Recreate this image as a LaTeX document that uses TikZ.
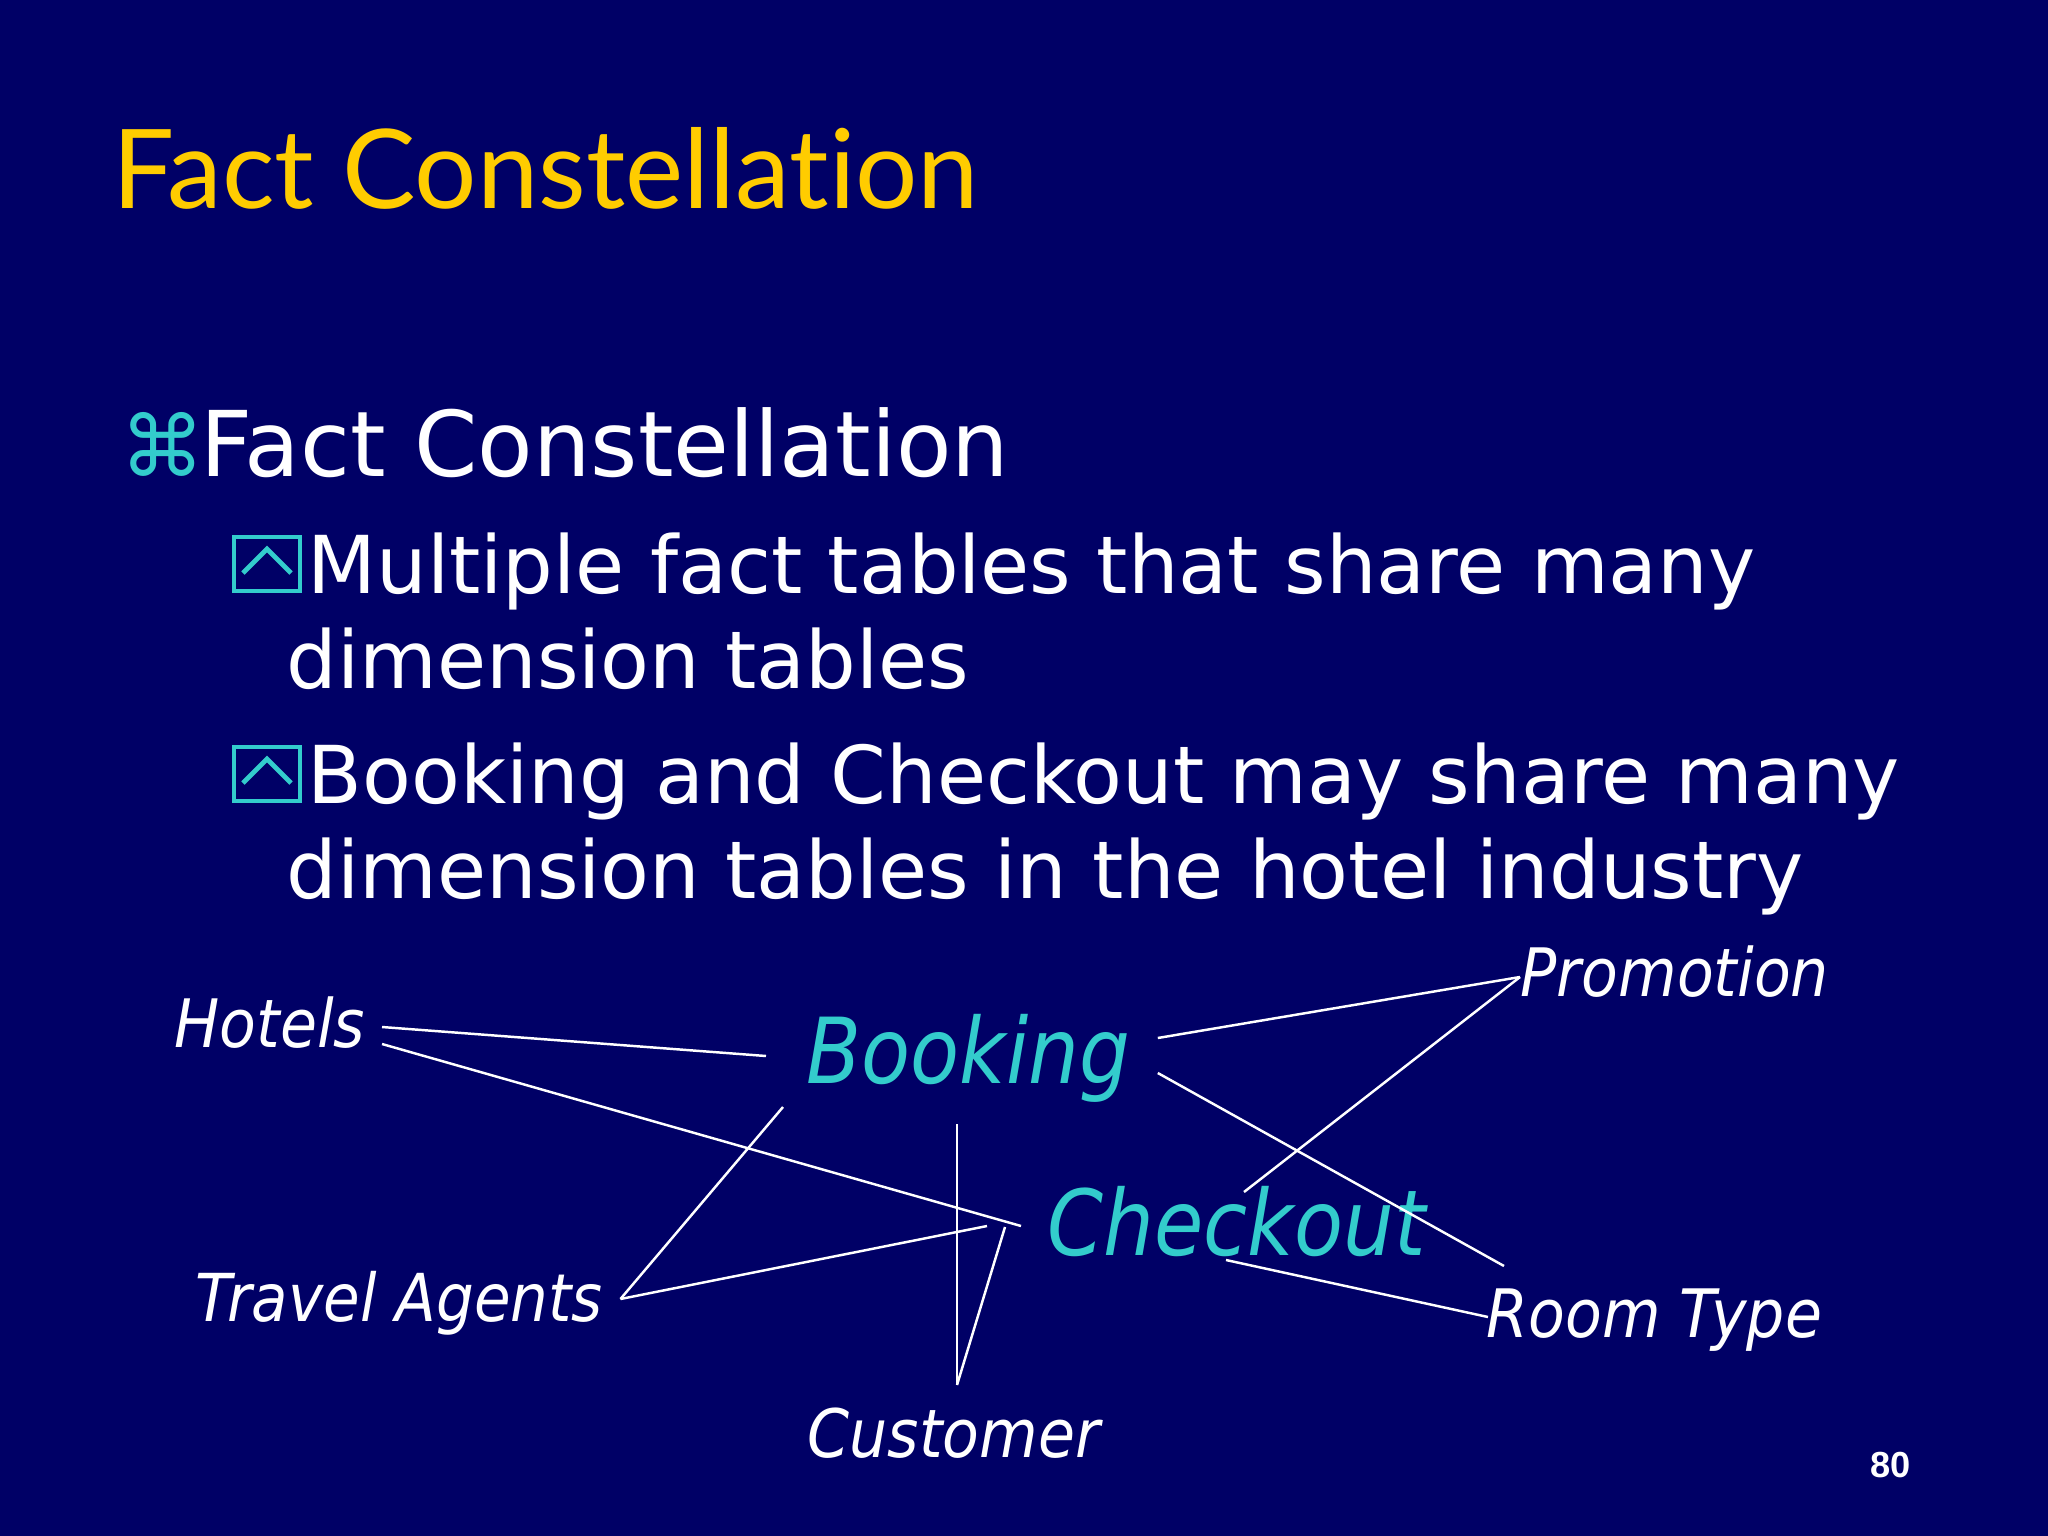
\documentclass[tikz,border=0pt]{standalone}
\usepackage{fontspec}
\setmainfont{DejaVu Sans}
\newfontfamily\titlefont{Lato}[Ligatures={NoCommon,NoRequired,NoContextual}]
\newfontfamily\dimfont{DejaVu Sans Oblique}[FakeStretch=0.9]
\newfontfamily\factfont{DejaVu Sans Oblique}[FakeStretch=0.88]
\newfontfamily\pagefont{Liberation Sans}

\definecolor{slidebg}{RGB}{0,0,102}
\definecolor{slidegold}{RGB}{255,204,0}
\definecolor{slidecyan}{RGB}{51,204,204}

\tikzset{
  chevbox/.pic={
    \draw[slidecyan, line width=1.15pt] (2,-2) rectangle (68,-56);
    \draw[slidecyan, line width=1.4pt] (11,-20) -- (35,-44) -- (59,-20);
  }
}

\begin{document}
\begin{tikzpicture}[x=0.01cm, y=-0.01cm]

        \fill[slidebg] (0,0) rectangle (2048,1536);

        % title and bullets
        \begin{scope}[every node/.style={anchor=base west, inner sep=0pt, text=white}]
          \node[text=slidegold, font=\titlefont\fontsize{31.3pt}{36pt}\selectfont] (title) at (112,208) {Fact Constellation};
          \node[text=slidecyan, font=\fontsize{24pt}{28pt}\selectfont] (cmd) at (120,476) {⌘};
          \node[font=\fontsize{25.8pt}{30pt}\selectfont] (fc) at (200,476) {Fact Constellation};
          \node[font=\fontsize{22.7pt}{27pt}\selectfont] (b1a) at (307,593) {Multiple fact tables that share many};
          \node[font=\fontsize{22.7pt}{27pt}\selectfont] (b1b) at (286,688) {dimension tables};
          \node[font=\fontsize{22.7pt}{27pt}\selectfont] (b2a) at (307,803) {Booking and Checkout may share many};
          \node[font=\fontsize{22.7pt}{27pt}\selectfont] (b2b) at (286,898) {dimension tables in the hotel industry};
          \node[font=\pagefont\bfseries\fontsize{10.3pt}{12pt}\selectfont] (page) at (1870,1477) {80};
        \end{scope}
        \pic at (232,593) {chevbox};
        \pic at (232,803) {chevbox};

        % fact tables and dimensions
        \begin{scope}[every node/.style={anchor=base west, inner sep=0pt, text=white,
                      font=\dimfont\fontsize{19pt}{22pt}\selectfont}]
          \node (hotels)   at (174,1047) {Hotels};
          \node (promo)    at (1520,996) {Promotion};
          \node (travel)   at (195,1321) [font=\dimfont\fontsize{18.8pt}{22pt}\selectfont] {Travel Agents};
          \node (roomtype) at (1486,1337) {Room Type};
          \node (customer) at (807,1457) {Customer};
          \node (booking)  at (806,1083) [text=slidecyan, font=\factfont\fontsize{25.9pt}{30pt}\selectfont] {Booking};
          \node (checkout) at (1047,1255) [text=slidecyan, font=\factfont\fontsize{25.9pt}{30pt}\selectfont] {Checkout};
        \end{scope}

        \begin{scope}[every edge/.style={draw=white, line width=0.7pt}]
          \path ([shift={(16,-20)}]hotels.base east) edge ([shift={(-40,-27)}]booking.base west);
          \path ([shift={(16,-3)}]hotels.base east) edge ([shift={(-26,-29)}]checkout.base west);
          \path ([shift={(27,-45)}]booking.base east) edge ([shift={(0,-19)}]promo.base west);
          \path ([shift={(0,-19)}]promo.base west) edge ([shift={(197,-63)}]checkout.base west);
          \path ([shift={(27,-10)}]booking.base east) edge ([shift={(18,-71)}]roomtype.base west);
          \path ([shift={(179,5)}]checkout.base west) edge ([shift={(2,-20)}]roomtype.base west);
          \path ([shift={(-23,24)}]booking.base west) edge ([shift={(17,-22)}]travel.base east);
          \path ([shift={(17,-22)}]travel.base east) edge ([shift={(-60,-29)}]checkout.base west);
          \path ([shift={(151,41)}]booking.base west) edge ([shift={(150,-72)}]customer.base west);
          \path ([shift={(-42,-28)}]checkout.base west) edge ([shift={(150,-72)}]customer.base west);
        \end{scope}

      \end{tikzpicture}
\end{document}
